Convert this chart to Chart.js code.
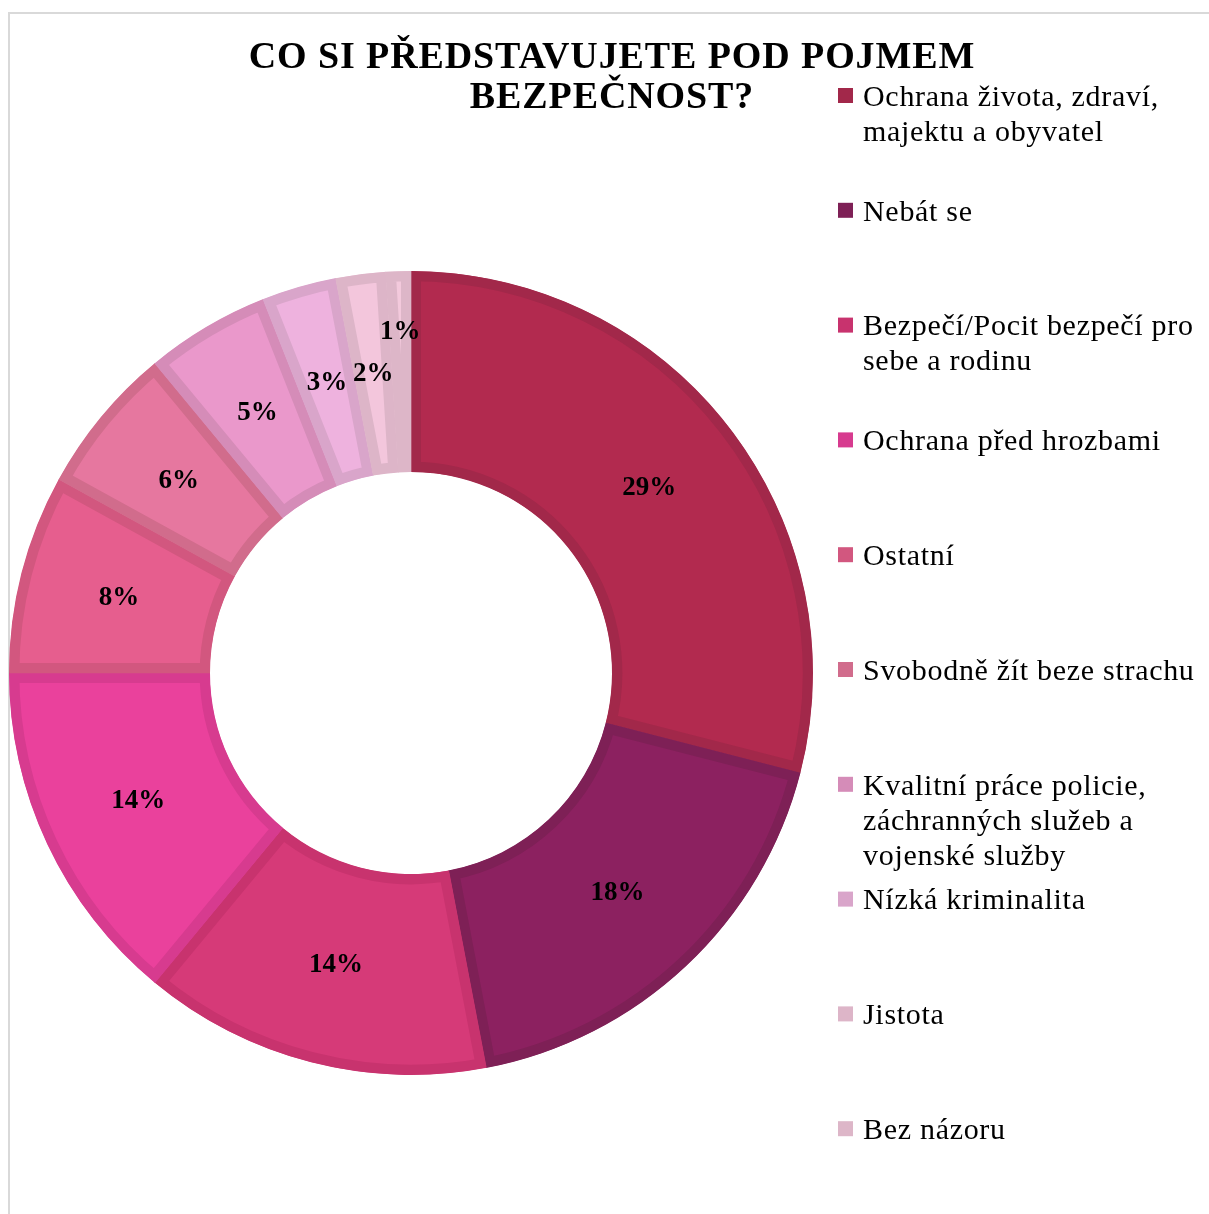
<!DOCTYPE html>
<html>
<head>
<meta charset="utf-8">
<script src="https://cdn.jsdelivr.net/npm/chart.js@4.4.1/dist/chart.umd.min.js"></script>
<style>
  html, body { margin: 0; padding: 0; background: #fff; overflow: hidden; }
  #ramecek { position: absolute; left: 8px; top: 12px; width: 1400px; height: 1400px; border: 2px solid #d9d9d9; }
  #graf { position: absolute; left: 0; top: 0; }
</style>
</head>
<body>
<div id="ramecek"></div>
<canvas id="graf" width="1209" height="1214"></canvas>
<script>
const titulek = ["CO SI PŘEDSTAVUJETE POD POJMEM", "BEZPEČNOST?"];

const kategorie = [
  ["Ochrana života, zdraví,", "majektu a obyvatel"],
  ["Nebát se"],
  ["Bezpečí/Pocit bezpečí pro", "sebe a rodinu"],
  ["Ochrana před hrozbami"],
  ["Ostatní"],
  ["Svobodně žít beze strachu"],
  ["Kvalitní práce policie,", "záchranných služeb a", "vojenské služby"],
  ["Nízká kriminalita"],
  ["Jistota"],
  ["Bez názoru"],
];

const hodnoty = [29, 18, 14, 14, 8, 6, 5, 3, 2, 1];

const barvy = ["#b22a4f", "#8c2160", "#d63a78", "#ea419c", "#e65e8e",
  "#e6779f", "#ea98cb", "#eeb2de", "#f3c6dc", "#f3c9dc"];
const okraje = ["#a2284a", "#7e2056", "#c8336e", "#d73b8f", "#d2577f",
  "#d16c8c", "#d58cb8", "#d9a5ca", "#ddb5c8", "#ddb6c8"];

const pismo = "'Liberation Serif', 'Times New Roman', serif";

// titulek, popisky a legenda kreslene na canvas
const kresleniTextu = {
  id: "kresleniTextu",
  afterDatasetsDraw(chart) {
    const ctx = chart.ctx;
    const meta = chart.getDatasetMeta(0);

    // popisky procent
    ctx.save();
    ctx.fillStyle = "#000";
    ctx.font = "bold 27px " + pismo;
    ctx.textAlign = "center";
    ctx.textBaseline = "middle";
    meta.data.forEach((oblouk, i) => {
      const stred = (oblouk.startAngle + oblouk.endAngle) / 2;
      let r = (oblouk.innerRadius + oblouk.outerRadius) / 2;
      if (hodnoty[i] < 1.5) r += 40;
      const x = oblouk.x + Math.cos(stred) * r;
      const y = oblouk.y + Math.sin(stred) * r;
      ctx.fillText(hodnoty[i] + "%", x, y);
    });
    ctx.restore();
  },
  afterDraw(chart) {
    const ctx = chart.ctx;

    // titulek
    ctx.save();
    ctx.fillStyle = "#000";
    ctx.font = "bold 38px " + pismo;
    ctx.letterSpacing = "0.9px";
    ctx.textAlign = "center";
    ctx.textBaseline = "alphabetic";
    titulek.forEach((radek, i) => ctx.fillText(radek, 612, 68 + i * 40));
    ctx.restore();

    // legenda
    ctx.save();
    ctx.font = "30px " + pismo;
    ctx.letterSpacing = "0.7px";
    ctx.textBaseline = "middle";
    ctx.textAlign = "left";
    kategorie.forEach((radky, i) => {
      const y = 97 + i * 114.8;
      ctx.fillStyle = okraje[i];
      ctx.fillRect(838, y - 9, 15, 15);
      ctx.fillStyle = "#000";
      radky.forEach((radek, j) => ctx.fillText(radek, 863, y + 1 + j * 35));
    });
    ctx.restore();
  }
};

new Chart(document.getElementById("graf"), {
  type: "doughnut",
  data: {
    labels: kategorie.map((k) => k.join(" ")),
    datasets: [{
      data: hodnoty,
      backgroundColor: barvy,
      borderColor: okraje,
      borderWidth: 10,
      borderAlign: "inner",
      hoverOffset: 0,
      hoverBorderWidth: 0,
    }],
  },
  options: {
    responsive: false,
    animation: false,
    events: [],
    cutout: "50%",
    layout: { padding: { left: 9, right: 396, top: 271, bottom: 139 } },
    plugins: {
      legend: { display: false },
      title: { display: false },
      tooltip: { enabled: false },
    },
  },
  plugins: [kresleniTextu],
});
</script>
</body>
</html>
